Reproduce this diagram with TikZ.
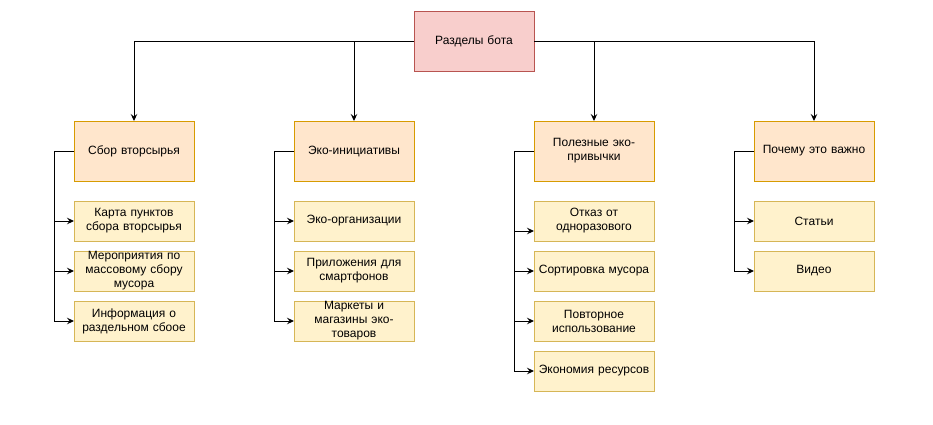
\documentclass[tikz,border=0pt]{standalone}
\usepackage{fontspec}
\setmainfont{Liberation Sans}
\usepackage{tikz}
\usetikzlibrary{arrows.meta}
\usetikzlibrary{positioning}
\definecolor{rootfill}{HTML}{F8CECC}
\definecolor{rootline}{HTML}{B85450}
\definecolor{catfill}{HTML}{FFE6CC}
\definecolor{catline}{HTML}{D79B00}
\definecolor{leaffill}{HTML}{FFF2CC}
\definecolor{leafline}{HTML}{D6B656}

\begin{document}
\begin{tikzpicture}[>={Stealth[length=7pt,width=6.5pt,inset=2.5pt]},
		x=1pt,y=-1pt,line width=1pt,font=\fontsize{12}{14}\selectfont]
		\tikzstyle{box}=[rectangle,draw,inner sep=0pt,outer sep=0pt,
			minimum width=120pt,text width=118pt,align=center];
		\tikzstyle{rootbox}=[box,fill=rootfill,draw=rootline,minimum height=60pt];
		\tikzstyle{catbox}=[box,fill=catfill,draw=catline,minimum height=60pt];
		\tikzstyle{leafbox}=[box,fill=leaffill,draw=leafline,minimum height=40pt];
		\tikzstyle{link}=[->];
		\useasboundingbox(0,0)rectangle(933,424);

		\node[rootbox](00)at(474,41){Разделы бота};

		\node[catbox](10)at(134,151){Сбор вторсырья};
		\node[leafbox,below=20pt of 10](11){Карта пунктов\\сбора вторсырья};
		\node[leafbox,below=10pt of 11](12){Мероприятия по\\массовому сбору\\мусора};
		\node[leafbox,below=10pt of 12](13){Информация о\\раздельном сбоое};

		\node[catbox](20)at(354,151){Эко-инициативы};
		\node[leafbox,below=20pt of 20](21){Эко-организации};
		\node[leafbox,below=10pt of 21](22){Приложения для\\смартфонов};
		\node[leafbox,below=10pt of 22](23){Маркеты и\\магазины эко-\\товаров};

		\node[catbox](30)at(594,151){Полезные эко-\\привычки};
		\node[leafbox,below=20pt of 30](31){Отказ от\\одноразового};
		\node[leafbox,below=10pt of 31](32){Сортировка мусора};
		\node[leafbox,below=10pt of 32](33){Повторное\\использование};
		\node[leafbox,below=10pt of 33](34){Экономия ресурсов};

		\node[catbox](40)at(814,151){Почему это важно};
		\node[leafbox,below=20pt of 40](41){Статьи};
		\node[leafbox,below=10pt of 41](42){Видео};

		\draw[link](00.west)-|(10.north);
		\draw[link](00.west)-|(20.north);
		\draw[link](00.east)-|(30.north);
		\draw[link](00.east)-|(40.north);

		\coordinate[left=20pt of 10.west](1t);
		\draw[link](10.west)--(1t)|-(11.west);
		\draw[link](1t)|-(12.west);
		\draw[link](1t)|-(13.west);

		\coordinate[left=20pt of 20.west](2t);
		\draw[link](20.west)--(2t)|-(21.west);
		\draw[link](2t)|-(22.west);
		\draw[link](2t)|-(23.west);

		\coordinate[left=20pt of 30.west](3t);
		\draw[link](30.west)--(3t)|-([yshift=-10pt]31.west);
		\draw[link](3t)|-(32.west);
		\draw[link](3t)|-(33.west);
		\draw[link](3t)|-(34.west);

		\coordinate[left=20pt of 40.west](4t);
		\draw[link](40.west)--(4t)|-(41.west);
		\draw[link](4t)|-(42.west);
	\end{tikzpicture}
\end{document}
